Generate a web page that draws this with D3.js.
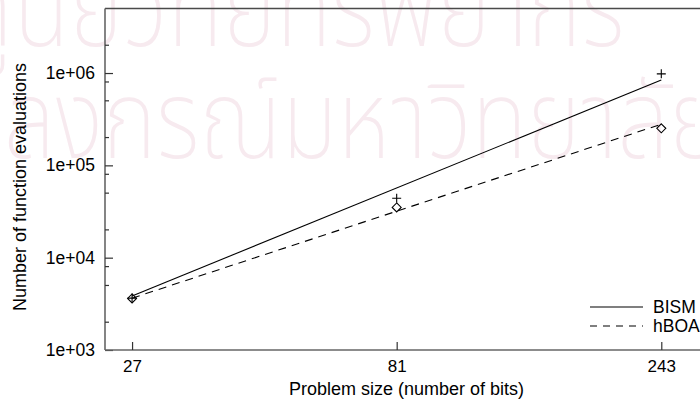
<!DOCTYPE html>
<html>
<head>
<meta charset="utf-8">
<script src="https://cdn.jsdelivr.net/npm/d3@7/dist/d3.min.js"></script>
<style>
  html, body { margin: 0; padding: 0; background: #fff; }
  svg { display: block; }
  text { font-family: "Liberation Sans", Arial, Helvetica, sans-serif; fill: #000; }
</style>
</head>
<body>
<svg id="chart" width="700" height="400"></svg>
<script>
// Problem sizes and measured evaluations
const sizes = [27, 81, 243];
const bismEvals = [3650, 44000, 980000];
const hboaEvals = [3620, 35000, 252000];

// Fitted scaling lines (endpoints at the smallest and largest size)
const fitSizes = [27, 243];
const bismFit = [3850, 840000];
const hboaFit = [3640, 279000];

// Axis ticks
const xTicks = [27, 81, 243];
const yMajor = [1e3, 1e4, 1e5, 1e6];
const yMajorLabels = ["1e+03", "1e+04", "1e+05", "1e+06"];
const yMinor = [2e3, 5e3, 8e3, 2e4, 5e4, 8e4, 2e5, 5e5, 8e5, 2e6];

const seriesNames = ["BISM", "hBOA"];
const watermark = ["ศูนย์วิทยทรัพยากร", "จุฬาลงกรณ์มหาวิทยาลัย"];

const svg = d3.select("#chart");
const W = 700, H = 400;
const mLeft = 105, mRight = 708, mTop = 8.5, mBottom = 350;

const x = d3.scaleLog().domain([24.13, 295]).range([mLeft, mRight]);
const y = d3.scaleLog().domain([1e3, 5e6]).range([mBottom, mTop]);

// faint background lettering, two centred rows
const wm = svg.append("g").attr("class", "watermark")
  .attr("transform", "translate(291,0) scale(0.83,1)");
watermark.forEach((t, i) => {
  wm.append("text")
    .attr("x", 0).attr("y", 46 + i * 112)
    .attr("text-anchor", "middle")
    .attr("font-size", 110)
    .attr("font-weight", 250)
    .style("font-family", "'Noto Sans Thai', 'Noto Sans', sans-serif")
    .style("fill", "#f7eaef")
    .text(t);
});

// plot frame: top border and the two axes
svg.append("line")
  .attr("x1", mLeft).attr("x2", W + 10).attr("y1", mTop).attr("y2", mTop)
  .attr("stroke", "#4a4a4a").attr("stroke-width", 1.3);

const yAxis = d3.axisLeft(y).tickValues(yMajor).tickSize(-8)
  .tickFormat((d, i) => yMajorLabels[i]).tickPadding(10);
const gy = svg.append("g").attr("transform", `translate(${mLeft},0)`).call(yAxis);
gy.select(".domain").attr("stroke", "#666").attr("stroke-width", 1.6)
  .attr("d", `M0,${mTop}V${mBottom}`);
gy.selectAll(".tick line").attr("stroke", "#333").attr("stroke-width", 1.2);
gy.selectAll(".tick text").attr("font-size", 17.5).style("font-family", "'Liberation Sans', Arial, sans-serif").attr("fill", "#000");
gy.selectAll(".yminor").data(yMinor).enter().append("line")
  .attr("x1", 0).attr("x2", 4)
  .attr("y1", d => y(d)).attr("y2", d => y(d))
  .attr("stroke", "#333").attr("stroke-width", 1.2);

const xAxis = d3.axisBottom(x).tickValues(xTicks).tickSize(-8)
  .tickFormat(d3.format("d")).tickPadding(10);
const gx = svg.append("g").attr("transform", `translate(0,${mBottom})`).call(xAxis);
gx.select(".domain").attr("stroke", "#666").attr("stroke-width", 1.6)
  .attr("d", `M${mLeft},0H${W + 10}`);
gx.selectAll(".tick line").attr("stroke", "#333").attr("stroke-width", 1.2);
gx.selectAll(".tick text").attr("font-size", 17).style("font-family", "'Liberation Sans', Arial, sans-serif").attr("fill", "#000");

// axis titles
svg.append("text")
  .attr("x", 406.5).attr("y", 395)
  .attr("text-anchor", "middle").attr("font-size", 18)
  .text("Problem size (number of bits)");
svg.append("text")
  .attr("transform", `translate(26,187) rotate(-90)`)
  .attr("text-anchor", "middle").attr("font-size", 18)
  .text("Number of function evaluations");

// fitted lines
const line = d3.line().x(d => x(d[0])).y(d => y(d[1]));
svg.append("path")
  .datum(fitSizes.map((s, i) => [s, bismFit[i]]))
  .attr("d", line).attr("fill", "none").attr("stroke", "#000").attr("stroke-width", 1.1);
svg.append("path")
  .datum(fitSizes.map((s, i) => [s, hboaFit[i]]))
  .attr("d", line).attr("fill", "none").attr("stroke", "#000").attr("stroke-width", 1.1)
  .attr("stroke-dasharray", "8,6");

// markers
svg.selectAll(".plus").data(sizes.map((s, i) => [s, bismEvals[i]])).enter()
  .append("path")
  .attr("d", d => { const cx = x(d[0]), cy = y(d[1]); return `M${cx - 4.5},${cy}H${cx + 4.5}M${cx},${cy - 4.5}V${cy + 4.5}`; })
  .attr("stroke", "#000").attr("stroke-width", 1.1).attr("fill", "none");
svg.selectAll(".diamond").data(sizes.map((s, i) => [s, hboaEvals[i]])).enter()
  .append("path")
  .attr("d", d => { const cx = x(d[0]), cy = y(d[1]); return `M${cx},${cy - 4.5}L${cx + 4.5},${cy}L${cx},${cy + 4.5}L${cx - 4.5},${cy}Z`; })
  .attr("stroke", "#000").attr("stroke-width", 1.1).attr("fill", "none");

// legend
const lg = svg.append("g");
[0, 1].forEach(i => {
  const ly = 307 + i * 19;
  lg.append("line").attr("x1", 590).attr("x2", 643).attr("y1", ly).attr("y2", ly)
    .attr("stroke", "#000").attr("stroke-width", 1.1)
    .attr("stroke-dasharray", i === 1 ? "7,6" : null);
  lg.append("text").attr("x", 653).attr("y", ly + 6).attr("font-size", 17.5)
    .text(seriesNames[i]);
});
</script>
</body>
</html>
